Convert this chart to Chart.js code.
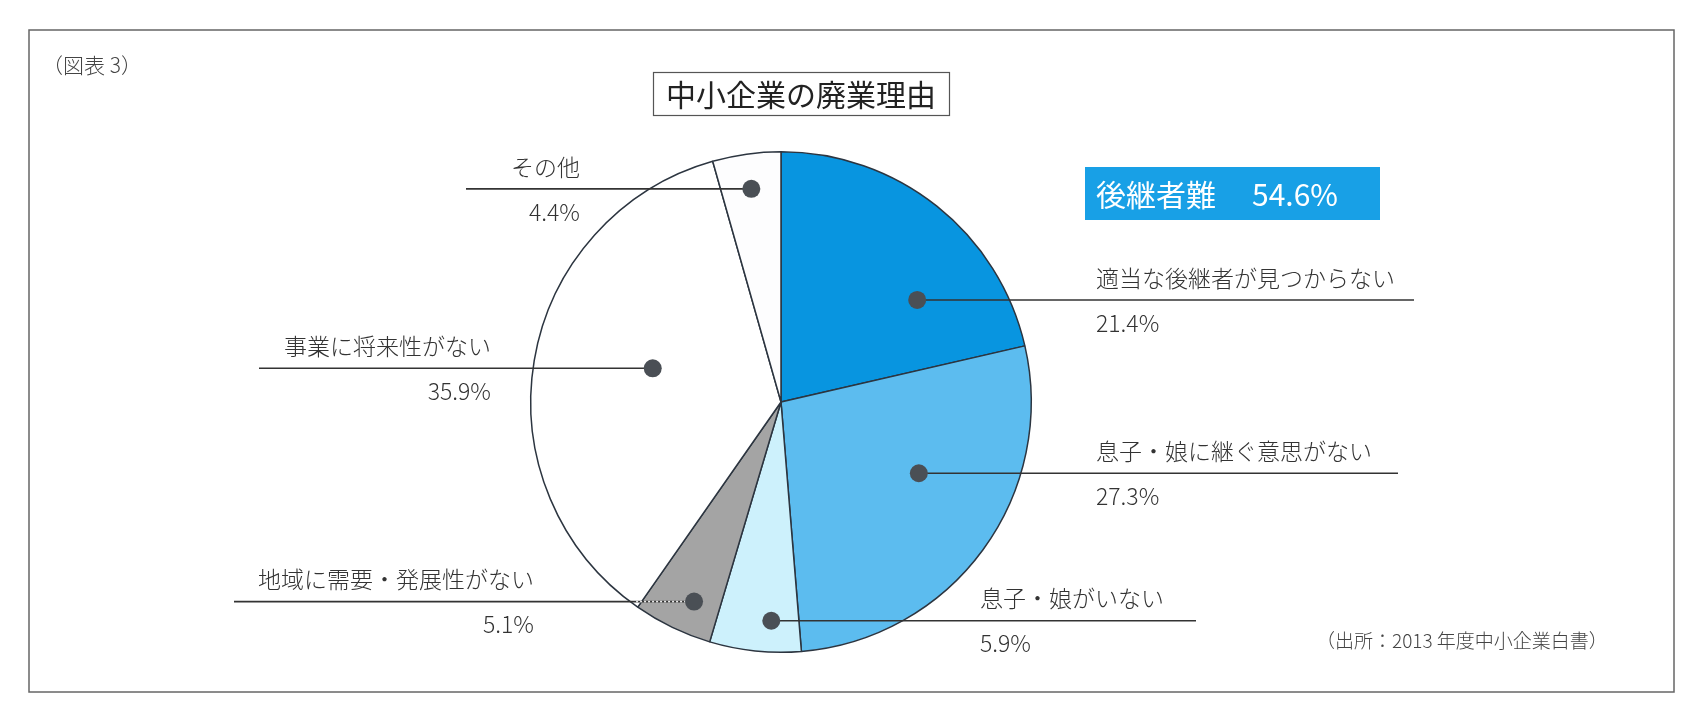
<!DOCTYPE html>
<html><head><meta charset="utf-8">
<script src="https://cdn.jsdelivr.net/npm/chart.js@4/dist/chart.umd.min.js"></script>
<style>html,body{margin:0;padding:0;background:#fff;}#wrap{position:absolute;left:0;top:0;width:1693px;height:711px;}</style>
</head><body><div id="wrap"><canvas id="c" width="1693" height="711"></canvas></div>
<script>
const categories = ['適当な後継者が見つからない','息子・娘に継ぐ意思がない','息子・娘がいない','地域に需要・発展性がない','事業に将来性がない','その他'];
const values = [21.4, 27.3, 5.9, 5.1, 35.9, 4.4];
const colors = ['#0895e0','#5cbcef','#cdf1fc','#a4a4a4','#ffffff','#fdfdfe'];
const chartTitle = '中小企業の廃業理由';
const figLabel = '（図表 3）';
const highlightLabel = '後継者難';
const highlightValue = '54.6%';
const sourceText = '（出所：2013 年度中小企業白書）';

// label layout (style only)
const labelLayout = [
  {side:'right', af:0.69, rf:0.68, textX:1096, lineX:1414},
  {side:'right', af:0.41, rf:0.62, textX:1096, lineX:1398},
  {side:'right', af:0.34, rf:0.875, textX:980, lineX:1196},
  {side:'left',  af:0.38, rf:0.87, textX:534, lineX:234, inner:'#e6e6e6'},
  {side:'left',  af:0.54, rf:0.53, textX:491, lineX:259},
  {side:'left',  af:0.5,  rf:0.86, textX:580, lineX:466}
];
const FONT = '"Noto Sans CJK JP","Noto Sans",sans-serif';

const decor = {
  id:'decor',
  beforeDraw(chart){
    const ctx = chart.ctx;
    ctx.save();
    ctx.fillStyle='#fff'; ctx.fillRect(0,0,chart.width,chart.height);
    ctx.strokeStyle='#666'; ctx.lineWidth=1.5;
    ctx.strokeRect(29,30,1645,662);
    ctx.fillStyle='#444'; ctx.font='300 21px '+FONT; ctx.textBaseline='middle'; ctx.textAlign='left';
    ctx.fillText(figLabel,42,65);
    // title box
    ctx.strokeStyle='#555'; ctx.lineWidth=1.2;
    ctx.strokeRect(653.5,72.5,296,43);
    ctx.fillStyle='#222'; ctx.font='30px '+FONT; ctx.textAlign='center';
    ctx.fillText(chartTitle,801,95);
    // highlight box
    ctx.fillStyle='#18a0e6'; ctx.fillRect(1085,167,295,53);
    ctx.fillStyle='#fff'; ctx.font='30px '+FONT; ctx.textAlign='left';
    ctx.fillText(highlightLabel,1096,195);
    ctx.fillText(highlightValue,1252,195);
    // source
    ctx.fillStyle='#444'; ctx.font='300 19px '+FONT; ctx.textAlign='left';
    ctx.fillText(sourceText,1316,641);
    ctx.restore();
  },
  afterDatasetsDraw(chart){
    const ctx = chart.ctx;
    const meta = chart.getDatasetMeta(0);
    ctx.save();
    meta.data.forEach((arc,i)=>{
      const p = arc.getProps(['x','y','startAngle','endAngle','outerRadius'],true);
      const L = labelLayout[i];
      const a = p.startAngle + L.af*(p.endAngle-p.startAngle);
      const r = L.rf*p.outerRadius;
      const dx = p.x + Math.cos(a)*r, dy = p.y + Math.sin(a)*r;
      ctx.strokeStyle='#333'; ctx.lineWidth=1.6;
      ctx.beginPath(); ctx.moveTo(dx,dy); ctx.lineTo(L.lineX,dy); ctx.stroke();
      if (L.inner){
        const ex = p.x - Math.sqrt(Math.max(0,p.outerRadius*p.outerRadius-(dy-p.y)*(dy-p.y)));
        ctx.strokeStyle=L.inner; ctx.setLineDash([2,2]);
        ctx.beginPath(); ctx.moveTo(dx,dy); ctx.lineTo(ex+6,dy); ctx.stroke();
        ctx.setLineDash([]);
      }
      ctx.fillStyle='#4a4f55';
      ctx.beginPath(); ctx.arc(dx,dy,9,0,Math.PI*2); ctx.fill();
      ctx.fillStyle='#333'; ctx.font='300 23px '+FONT; ctx.textBaseline='middle';
      ctx.textAlign = L.side==='right' ? 'left' : 'right';
      ctx.fillText(categories[i], L.textX, dy-22);
      ctx.fillText(values[i].toFixed(1)+'%', L.textX, dy+23);
    });
    ctx.restore();
  }
};

new Chart(document.getElementById('c'),{
  type:'pie',
  data:{labels:categories,datasets:[{data:values,backgroundColor:colors,borderColor:'#2c3540',borderWidth:1.5}]},
  options:{
    responsive:false, animation:false,
    layout:{padding:{left:530,right:661,top:151,bottom:58}},
    plugins:{legend:{display:false},tooltip:{enabled:false},title:{display:false}}
  },
  plugins:[decor]
});
</script></body></html>
